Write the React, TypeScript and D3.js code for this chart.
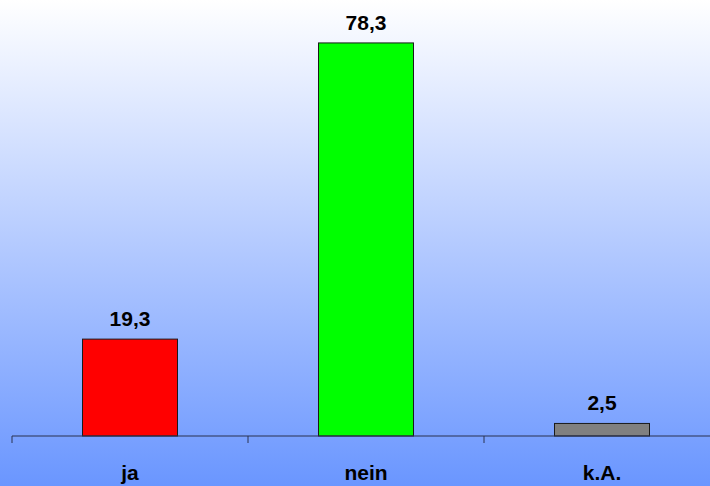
import React from "react";
import * as d3 from "d3";

const categories = ["ja", "nein", "k.A."];
const values = [19.3, 78.3, 2.5];
const labels = ["19,3", "78,3", "2,5"];
const colors = ["#ff0000", "#00ff00", "#808080"];

const W = 710;
const H = 486;

export default function App() {
  const x = d3.scaleBand<string>().domain(categories).range([12, 720]).paddingInner(0).paddingOuter(0);
  const y = d3.scaleLinear().domain([0, 80]).range([436, 34.4]);
  const barW = 95;
  const ticks = [0, 1, 2, 3].map((i) => 12 + i * x.bandwidth());
  return (
    <svg
      width={W}
      height={H}
      style={{ position: "absolute", left: 0, top: 0, display: "block" }}
      fontFamily="'Liberation Sans', Arial, sans-serif"
    >
      <defs>
        <linearGradient id="bg" x1="0" y1="0" x2="0" y2="1">
          <stop offset="0" stopColor="#ffffff" />
          <stop offset="1" stopColor="#6a96ff" />
        </linearGradient>
      </defs>
      <rect x={0} y={0} width={W} height={H} fill="url(#bg)" />
      {categories.map((c, i) => {
        const cx = (x(c) as number) + x.bandwidth() / 2;
        return (
          <g key={c}>
            <rect
              x={cx - barW / 2}
              y={y(values[i])}
              width={barW}
              height={y(0) - y(values[i])}
              fill={colors[i]}
              stroke="#1a1a1a"
              strokeWidth={1}
            />
            <text
              x={cx}
              y={y(values[i]) - 13}
              textAnchor="middle"
              fontWeight="bold"
              fontSize={21}
              fill="#000"
            >
              {labels[i]}
            </text>
            <text x={cx} y={480} textAnchor="middle" fontWeight="bold" fontSize={21} fill="#000">
              {c}
            </text>
          </g>
        );
      })}
      <line x1={12} x2={W} y1={y(0)} y2={y(0)} stroke="#2a3350" strokeWidth={1.2} />
      {ticks.map((t, i) => (
        <line key={i} x1={t} x2={t} y1={y(0)} y2={y(0) + 7} stroke="#2a3350" strokeWidth={1} />
      ))}
    </svg>
  );
}
